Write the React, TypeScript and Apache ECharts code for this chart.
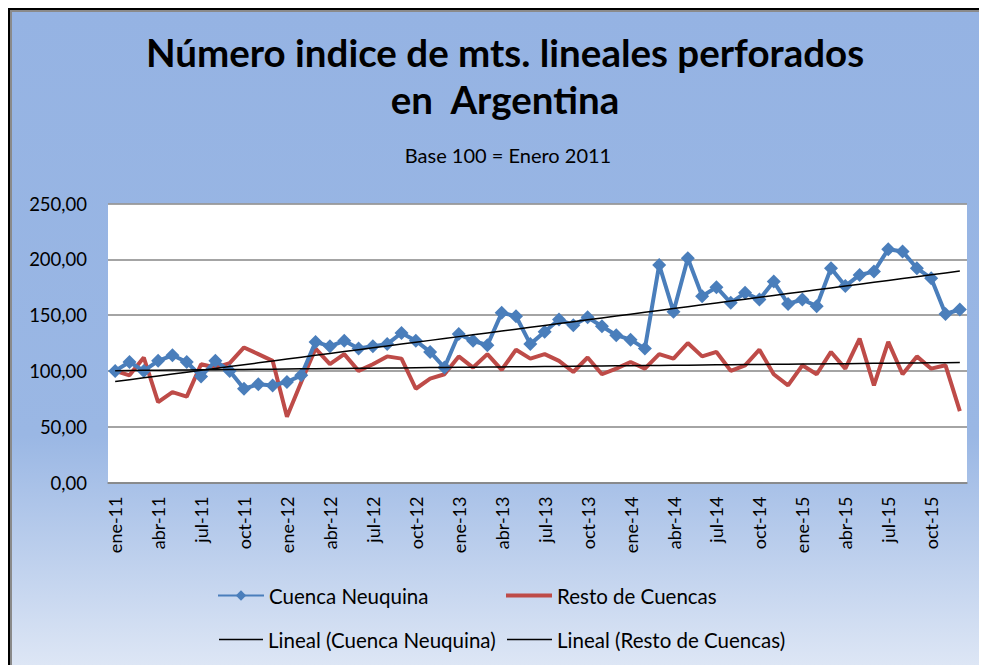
import React, { useEffect, useRef } from "react";
import * as echarts from "echarts";

const MONTHS = ["ene", "feb", "mar", "abr", "may", "jun", "jul", "ago", "sep", "oct", "nov", "dic"];
const YEARS = ["11", "12", "13", "14", "15"];
const categories: string[] = YEARS.flatMap((y) => MONTHS.map((m) => `${m}-${y}`));

const cuencaNeuquina = [
  100, 108, 100, 109, 114, 108, 95, 109, 100, 84, 88, 87,
  90, 96, 126, 122, 127, 120, 122, 124, 134, 127, 117, 103,
  133, 127, 123, 152, 149, 124, 135, 146, 141, 148, 140, 132,
  128, 120, 195, 153, 201, 167, 175, 161, 170, 164, 180, 160,
  164, 158, 192, 176, 186, 189, 209, 207, 192, 183, 151, 155,
];

const restoCuencas = [
  100, 96, 112, 72, 81, 77, 106, 103, 107, 121, 115, 109,
  59, 90, 120, 106, 115, 100, 106, 113, 111, 84, 93, 97,
  113, 103, 115, 101, 119, 111, 115, 109, 99, 112, 97, 102,
  108, 102, 115, 111, 125, 113, 117, 100, 105, 119, 97, 87,
  105, 97, 117, 102, 129, 87, 126, 97, 113, 102, 105, 64,
];

const yTicks = { min: 0, max: 250, interval: 50 };

const TITLE = "Número indice de mts. lineales perforados\nen  Argentina";
const SUBTITLE = "Base 100 = Enero 2011";
const S1 = "Cuenca Neuquina";
const S2 = "Resto de Cuencas";
const T1 = "Lineal (Cuenca Neuquina)";
const T2 = "Lineal (Resto de Cuencas)";

function linearTrend(values: number[]): number[] {
  const n = values.length;
  const xs = values.map((_, i) => i + 1);
  const mx = xs.reduce((a, b) => a + b, 0) / n;
  const my = values.reduce((a, b) => a + b, 0) / n;
  let num = 0;
  let den = 0;
  for (let i = 0; i < n; i++) {
    num += (xs[i] - mx) * (values[i] - my);
    den += (xs[i] - mx) * (xs[i] - mx);
  }
  const b = num / den;
  const a = my - b * mx;
  return xs.map((x) => +(a + b * x).toFixed(3));
}

const FONT = "Lato";

export default function App() {
  const ref = useRef<HTMLDivElement>(null);
  useEffect(() => {
    if (!ref.current) return;
    const chart = echarts.init(ref.current, undefined, { renderer: "svg" });
    const legendText = { fontFamily: FONT, fontSize: 20.5, color: "#000" };
    const mkLegend = (name: string, left: number, top: number, extra: any = {}) => ({
      show: true,
      data: [name],
      left,
      top,
      padding: 0,
      itemWidth: 46,
      itemHeight: 13,
      itemGap: 0,
      textStyle: legendText,
      ...extra,
    });
    chart.setOption({
      animation: false,
      backgroundColor: "transparent",
      title: [
        {
          text: TITLE,
          left: 497,
          top: 20,
          textAlign: "center",
          padding: 0,
          textStyle: {
            fontFamily: FONT,
            fontWeight: "bold",
            fontSize: 38.5,
            lineHeight: 47,
            color: "#000",
          },
        },
        {
          text: SUBTITLE,
          left: 500,
          top: 137,
          textAlign: "center",
          padding: 0,
          textStyle: { fontFamily: FONT, fontWeight: "normal", fontSize: 20, color: "#000" },
        },
      ],
      legend: [
        mkLegend(S1, 209, 577),
        mkLegend(S2, 498, 577, { icon: "rect", itemHeight: 4 }),
        mkLegend(T1, 211, 621, { icon: "rect", itemHeight: 1.5, itemWidth: 44 }),
        mkLegend(T2, 499, 621, { icon: "rect", itemHeight: 1.5, itemWidth: 45 }),
      ],
      grid: {
        left: 100,
        right: 18,
        top: 195.5,
        bottom: 180.5,
        show: true,
        backgroundColor: "#fff",
        borderWidth: 0,
      },
      xAxis: {
        type: "category",
        data: categories,
        boundaryGap: true,
        axisLine: { show: true, lineStyle: { color: "#868686", width: 1.5 } },
        axisTick: { show: false },
        axisLabel: {
          interval: 2,
          rotate: 90,
          margin: 14,
          fontFamily: FONT,
          fontSize: 18,
          color: "#000",
        },
      },
      yAxis: {
        type: "value",
        min: yTicks.min,
        max: yTicks.max,
        interval: yTicks.interval,
        axisLine: { show: false },
        axisTick: { show: false },
        splitLine: { lineStyle: { color: "#868686", width: 1.5 } },
        axisLabel: {
          margin: 21,
          fontFamily: FONT,
          fontSize: 18.5,
          color: "#000",
          formatter: (v: number) => v.toFixed(2).replace(".", ","),
        },
      },
      series: [
        {
          name: S1,
          type: "line",
          data: cuencaNeuquina,
          symbol: "diamond",
          symbolSize: 14,
          showSymbol: true,
          showAllSymbol: true,
          lineStyle: { color: "#4A7EBB", width: 4 },
          itemStyle: { color: "#4A7EBB" },
          z: 3,
        },
        {
          name: S2,
          type: "line",
          data: restoCuencas,
          symbol: "none",
          showSymbol: false,
          lineStyle: { color: "#BE4B48", width: 4 },
          itemStyle: { color: "#BE4B48" },
          z: 2,
        },
        {
          name: T1,
          type: "line",
          data: linearTrend(cuencaNeuquina),
          symbol: "none",
          showSymbol: false,
          lineStyle: { color: "#000", width: 1.5 },
          itemStyle: { color: "#000" },
          z: 4,
        },
        {
          name: T2,
          type: "line",
          data: linearTrend(restoCuencas),
          symbol: "none",
          showSymbol: false,
          lineStyle: { color: "#000", width: 1.5 },
          itemStyle: { color: "#000" },
          z: 4,
        },
      ],
    });
    return () => chart.dispose();
  }, []);
  return (
    <div
      style={{
        width: 979,
        height: 657,
        boxSizing: "border-box",
        borderLeft: "2px solid #000",
        borderTop: "2px solid #000",
        boxShadow: "inset 2px 2px 0 #8a8a8a",
        background: "linear-gradient(to bottom, #95B3E3 0%, #9AB7E4 65%, #DDE6F5 100%)",
        overflow: "hidden",
      }}
    >
      <div ref={ref} style={{ width: 977, height: 655, marginLeft: -2, marginTop: -2 }} />
    </div>
  );
}
